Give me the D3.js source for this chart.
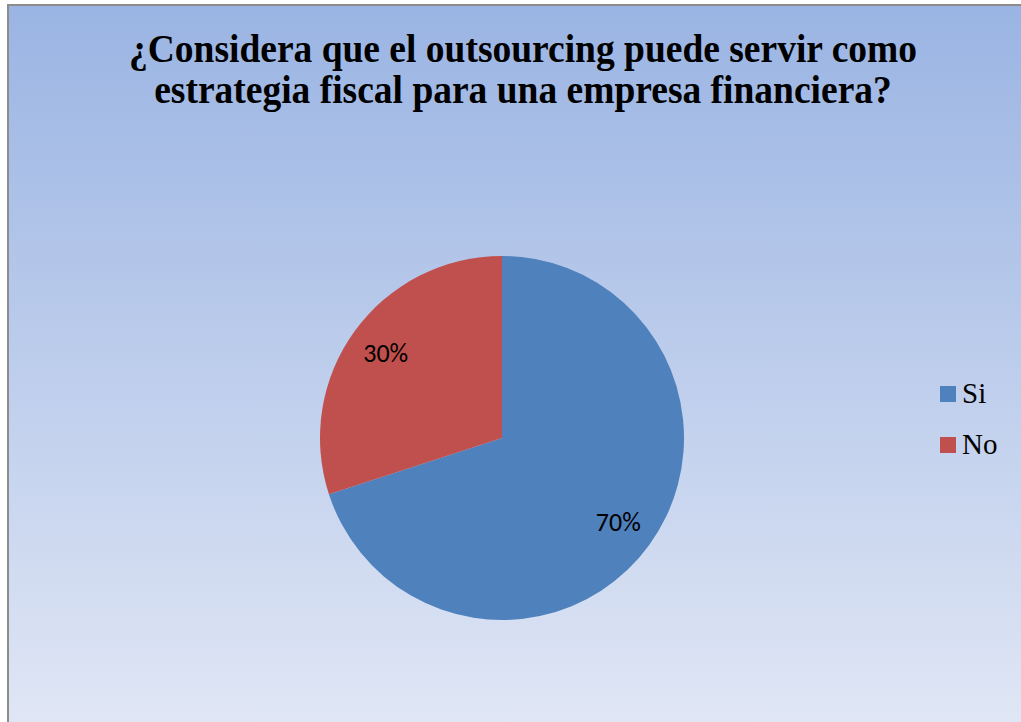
<!DOCTYPE html>
<html>
<head>
<meta charset="utf-8">
<script src="https://cdn.jsdelivr.net/npm/d3@7"></script>
<style>
  body { margin: 0; background: #ffffff; }
  svg { display: block; }
</style>
</head>
<body>
<svg id="SVG_CONTAINER"></svg>
<script>
// data
const titleLines = ["¿Considera que el outsourcing puede servir como",
                    "estrategia fiscal para una empresa financiera?"];
const categories = ["Si", "No"];
const values = [70, 30];
const colours = ["#4f81bd", "#c0504d"];

const width = 1021, height = 722;

let svg = d3.select("#SVG_CONTAINER")
    .attr("width", width)
    .attr("height", height);

//background gradient of the chart area
let grad = svg.append("defs").append("linearGradient")
    .attr("id", "bg-grad")
    .attr("x1", "0%").attr("y1", "0%")
    .attr("x2", "0%").attr("y2", "100%");
grad.append("stop").attr("offset", 0).attr("stop-color", "#9ab4e3");
grad.append("stop").attr("offset", 1).attr("stop-color", "#e1e7f5");

svg.append("rect")
    .attr("x", 8)
    .attr("y", 5)
    .attr("width", width + 10)
    .attr("height", height + 10)
    .style("fill", "url(#bg-grad)")
    .style("stroke", "#8c8c8c")
    .style("stroke-width", 2);

//title (the original font is a bit taller than wide, so stretch it a little)
svg.append("g").selectAll("text")
    .data(titleLines)
    .enter()
    .append("text")
    .attr("transform", (d, i) => "translate(523," + (62 + i * 40.5) + ") scale(1,1.07)")
    .attr("text-anchor", "middle")
    .style("font-family", "'Liberation Serif', 'Times New Roman', serif")
    .style("font-weight", "bold")
    .style("font-size", "37.5px")
    .style("fill", "#000")
    .text(d => d);

//pie
let cx = 502, cy = 438, radius = 182;
let pie = d3.pie().sort(null).value(d => d.value);
let arcs = pie(categories.map((c, i) => ({name: c, value: values[i], colour: colours[i]})));
let arc = d3.arc().innerRadius(0).outerRadius(radius);
let labelArc = d3.arc().innerRadius(radius * 0.79).outerRadius(radius * 0.79);
let total = d3.sum(values);

let chart = svg.append("g").attr("transform", "translate(" + cx + "," + cy + ")");
chart.selectAll("path")
    .data(arcs)
    .enter()
    .append("path")
    .attr("d", arc)
    .style("fill", d => d.data.colour);

chart.selectAll(".label")
    .data(arcs)
    .enter()
    .append("text")
    .attr("class", "label")
    .attr("transform", d => "translate(" + labelArc.centroid(d) + ")")
    .attr("text-anchor", "middle")
    .attr("dy", "0.33em")
    .style("font-family", "Carlito, 'Open Sans', 'Liberation Sans', sans-serif")
    .style("font-size", "26px")
    .style("fill", "#000")
    .text(d => Math.round(d.data.value / total * 100) + "%");

//legend
let legend = svg.append("g").attr("transform", "translate(940,386)");
let items = legend.selectAll("g")
    .data(categories)
    .enter()
    .append("g")
    .attr("transform", (d, i) => "translate(0," + i * 51 + ")");
items.append("rect")
    .attr("width", 16)
    .attr("height", 16)
    .style("fill", (d, i) => colours[i]);
items.append("text")
    .attr("x", 22)
    .attr("y", 17)
    .style("font-family", "'Liberation Serif', 'Times New Roman', serif")
    .style("font-size", "29px")
    .style("fill", "#000")
    .text(d => d);
</script>
</body>
</html>
